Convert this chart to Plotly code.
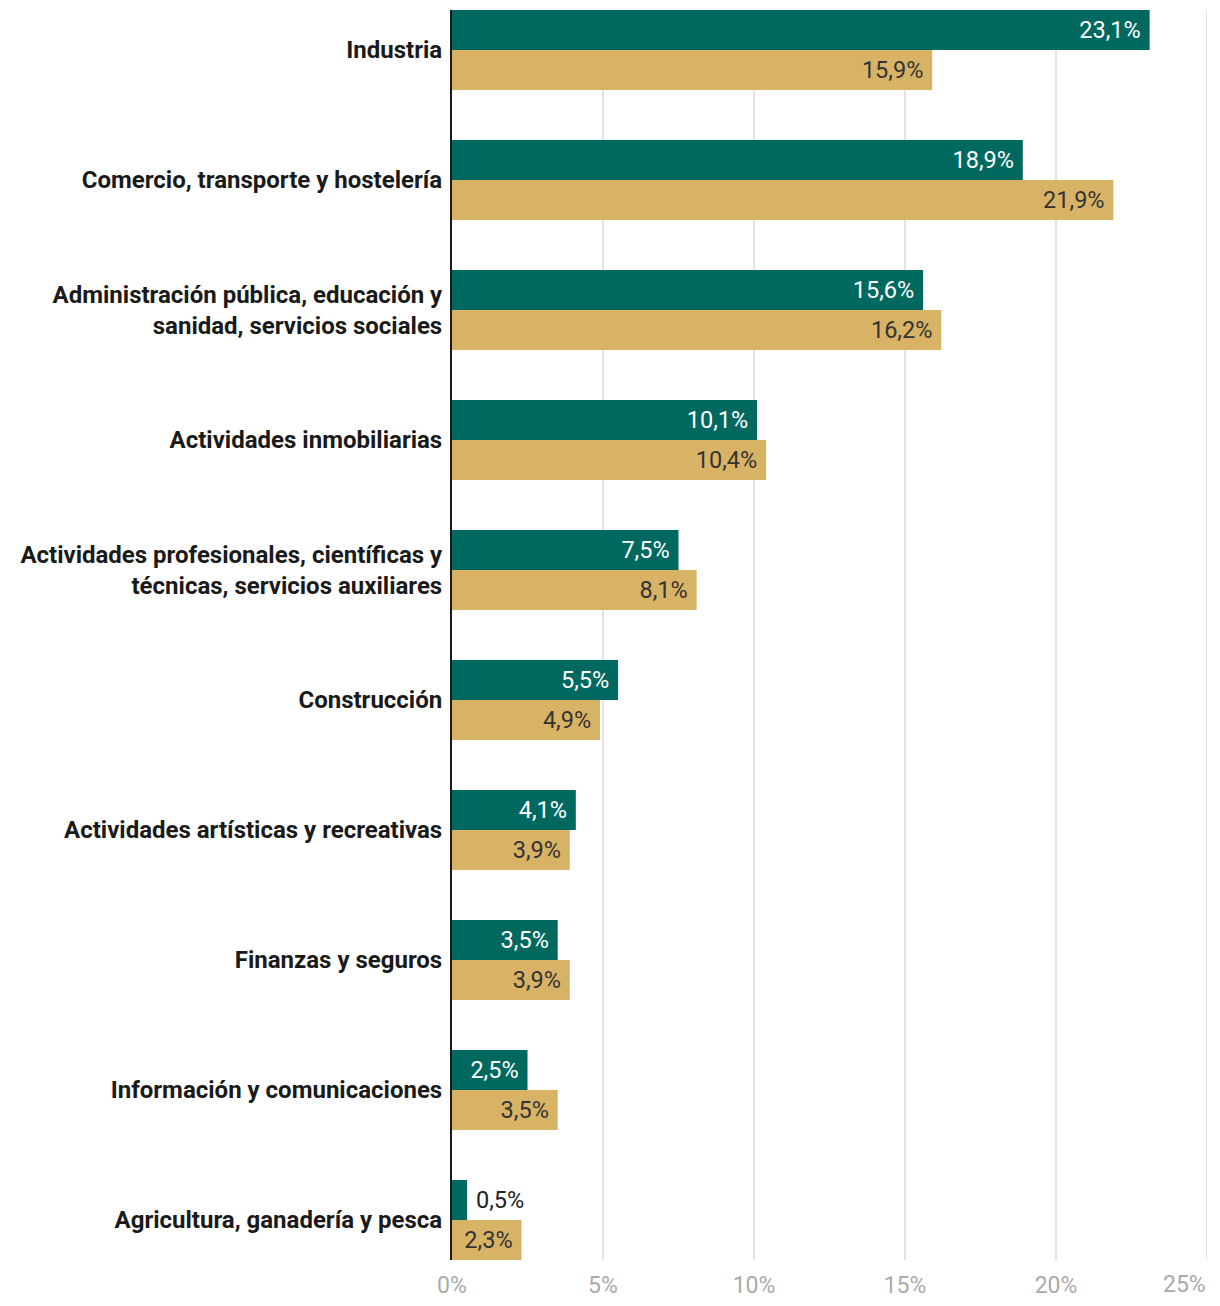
import plotly.graph_objects as go

categories = [
    "Industria",
    "Comercio, transporte y hostelería",
    "Administración pública, educación y<br>sanidad, servicios sociales",
    "Actividades inmobiliarias",
    "Actividades profesionales, científicas y<br>técnicas, servicios auxiliares",
    "Construcción",
    "Actividades artísticas y recreativas",
    "Finanzas y seguros",
    "Información y comunicaciones",
    "Agricultura, ganadería y pesca",
]
serie_a = [23.1, 18.9, 15.6, 10.1, 7.5, 5.5, 4.1, 3.5, 2.5, 0.5]
serie_b = [15.9, 21.9, 16.2, 10.4, 8.1, 4.9, 3.9, 3.9, 3.5, 2.3]
tick_vals = [0, 5, 10, 15, 20, 25]
tick_text = ["0%", "5%", "10%", "15%", "20%", "25%"]

GREEN = "#00695f"
GOLD = "#d9b365"
GRID = "#e3e3e3"
NB = "\u00a0"


def fmt(v):
    s = f"{v:.1f}".replace(".", ",") + "%"
    return NB + s if v < 1 else s + NB


def positions(vals):
    return ["outside" if v < 1 else "inside" for v in vals]


fig = go.Figure()
fig.add_trace(go.Bar(
    y=categories, x=serie_a, orientation="h", name="A",
    marker=dict(color=GREEN, line=dict(width=0)),
    text=[fmt(v) for v in serie_a], textposition=positions(serie_a),
    insidetextanchor="end", constraintext="none",
    insidetextfont=dict(color="white", size=23.5, family="Roboto"),
    outsidetextfont=dict(color="#222222", size=23.5, family="Roboto"),
    cliponaxis=False,
))
fig.add_trace(go.Bar(
    y=categories, x=serie_b, orientation="h", name="B",
    marker=dict(color=GOLD, line=dict(width=0)),
    text=[fmt(v) for v in serie_b], textposition=positions(serie_b),
    insidetextanchor="end", constraintext="none",
    insidetextfont=dict(color="#333333", size=23.5, family="Roboto"),
    outsidetextfont=dict(color="#333333", size=23.5, family="Roboto"),
    cliponaxis=False,
))

# gridline at the right edge of the axis range
fig.add_shape(
    type="line", xref="x", yref="paper",
    x0=tick_vals[-1], x1=tick_vals[-1], y0=0, y1=1,
    line=dict(color=GRID, width=2), layer="below",
)
# last tick label is right-aligned to stay inside the page
fig.add_annotation(
    x=tick_vals[-1], y=0, xref="x", yref="paper",
    text=tick_text[-1], showarrow=False,
    xanchor="right", yanchor="top", yshift=-9, xshift=1,
    font=dict(color="#aaaaaa", size=23, family="Roboto"),
)

n = len(categories)
fig.update_layout(
    width=1212, height=1298,
    margin=dict(l=444, r=13, t=2, b=46),
    barmode="group", bargap=50 / 130, bargroupgap=0,
    showlegend=False,
    plot_bgcolor="white", paper_bgcolor="white",
    font=dict(family="Roboto", size=23, color="#222222"),
    xaxis=dict(
        range=[0, 25], tickvals=tick_vals,
        ticktext=tick_text[:-1] + [""],
        showgrid=True, gridcolor=GRID, gridwidth=2,
        zeroline=False, showline=False,
        ticklabelstandoff=9,
        tickfont=dict(color="#aaaaaa", size=23, family="Roboto"),
        fixedrange=True,
    ),
    yaxis=dict(
        type="category",
        range=[n - 1 + 40 / 130, -40 / 130],
        showgrid=False, zeroline=False,
        showline=True, linecolor="#1a1a1a", linewidth=2,
        ticks="", ticklabelstandoff=3,
        tickfont=dict(size=24, family="Roboto", color="#1a1a1a", weight="bold"),
    ),
)

fig.write_html("out.html")
